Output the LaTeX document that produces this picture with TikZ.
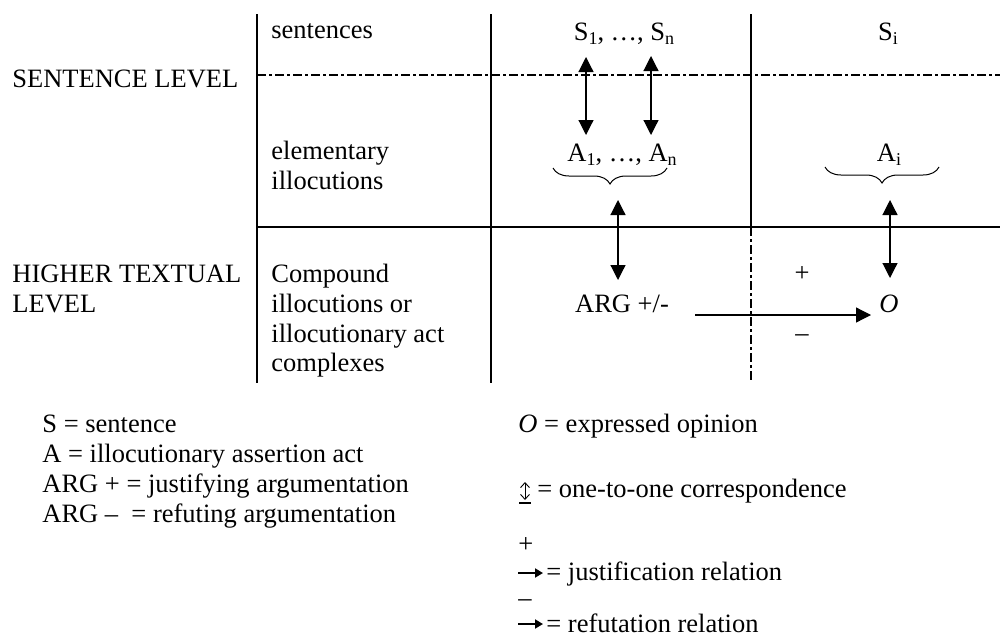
\documentclass[tikz,border=0pt]{standalone}
\usepackage{fontspec}
\setmainfont{Liberation Serif}
\usetikzlibrary{arrows.meta,decorations.pathreplacing}
\newcommand\sbs[1]{\raisebox{-0.35ex}{\fontsize{9}{9}\selectfont #1}}
\begin{document}
\begin{tikzpicture}[x=0.5pt,y=-0.5pt,
  txt/.style={inner sep=0pt, font=\fontsize{13.25}{15}\selectfont},
  lt/.style={txt, anchor=base west},
  ct/.style={txt, anchor=base},
  rule/.style={line width=0.75pt},
  dd/.style={line width=0.75pt, dash pattern=on 4.5pt off 1.5pt on 1.5pt off 1.5pt},
  dbl/.style={line width=0.6pt, {Triangle[length=7.5pt,width=7.5pt]}-{Triangle[length=7.5pt,width=7.5pt]}},
  one/.style={line width=0.6pt, -{Triangle[length=7.5pt,width=7.5pt]}},
  symarr/.style={line width=0.9pt, -{Triangle[length=4pt,width=4.5pt]}},
  symdbl/.style={line width=0.45pt, {Straight Barb[length=2.5pt,width=4.5pt]}-{Straight Barb[length=2.5pt,width=4.5pt]}},
  br/.style={decorate, decoration={brace, mirror, amplitude=8pt}, line width=0.5pt}]

\useasboundingbox (0,0) rectangle (1000,637);

% grid coordinates
\coordinate (v1t) at (257,14);  \coordinate (v1b) at (257,383);
\coordinate (v2t) at (491,14);  \coordinate (v2b) at (491,383);
\coordinate (v3t) at (751,14);  \coordinate (v3m) at (751,227); \coordinate (v3b) at (751,383);
\coordinate (hdl) at (257,75);  \coordinate (hdr) at (1000,75);
\coordinate (hsl) at (257,227); \coordinate (hsr) at (1000,227);

\draw[rule] (v1t) -- (v1b);
\draw[rule] (v2t) -- (v2b);
\draw[rule] (v3t) -- (v3m);
\draw[dd] (v3m) -- (v3b);
\draw[dd] (hdl) -- (hdr);
\draw[rule] (hsl) -- (hsr);

% row labels
\node[lt] (sl) at (12,87) {SENTENCE LEVEL};
\node[lt] (htl1) at (12,282) {HIGHER TEXTUAL};
\node[lt] (htl2) at (12,312) {LEVEL};

\node[lt] (sent) at (271,39) {sentences};
\node[lt] (el1) at (271,159) {elementary};
\node[lt] (el2) at (271,189) {illocutions};
\node[lt] (co1) at (271,282) {Compound};
\node[lt] (co2) at (271,312) {illocutions or};
\node[lt] (co3) at (271,342) {illocutionary act};
\node[lt] (co4) at (271,371) {complexes};

% content
\node[ct] (S) at (624,40) {S\sbs{1}, …, S\sbs{n}};
\node[ct] (Si) at (888,40) {S\sbs{i}};
\node[ct] (A) at (622,161) {A\sbs{1}, …, A\sbs{n}};
\node[ct] (Ai) at (889,161) {A\sbs{i}};
\node[ct] (ARG) at (622,312) {ARG +/-};
\node[ct] (O) at (889,312) {\textit{O}};
\node[txt] (plus) at (802,274) {+};
\node[txt] (minus) at (802,338) {–};

% braces
\coordinate (b1l) at (553,168); \coordinate (b1r) at (667,168);
\coordinate (b2l) at (825,167); \coordinate (b2r) at (939,167);
\draw[br] (b1l) -- (b1r);
\draw[br] (b2l) -- (b2r);

% arrows
\coordinate (a1t) at (586,57);  \coordinate (a1b) at (586,135);
\coordinate (a2t) at (651,56);  \coordinate (a2b) at (651,135);
\coordinate (a3t) at (618,200); \coordinate (a3b) at (618,280);
\coordinate (a4t) at (890,200); \coordinate (a4b) at (890,278);
\coordinate (hs) at (695,315);  \coordinate (he) at (871,315);
\draw[dbl] (a1t) -- (a1b);
\draw[dbl] (a2t) -- (a2b);
\draw[dbl] (a3t) -- (a3b);
\draw[dbl] (a4t) -- (a4b);
\draw[one] (hs) -- (he);

% legend left
\node[lt] (lg1) at (42,432) {S = sentence};
\node[lt] (lg2) at (42,462) {A = illocutionary assertion act};
\node[lt] (lg3) at (42,492) {ARG + = justifying argumentation};
\node[lt] (lg4) at (42,522) {ARG –\ \ = refuting argumentation};

% legend right
\node[lt] (lr1) at (518,432) {\textit{O} = expressed opinion};
\coordinate (ud1) at (525,482); \coordinate (ud2) at (525,500);
\coordinate (ub1) at (519,503); \coordinate (ub2) at (531,503);
\draw[symdbl] (ud1) -- (ud2);
\draw[line width=0.6pt] (ub1) -- (ub2);
\node[lt] (lr2) at (537,497) {= one-to-one correspondence};
\node[lt] (lr3p) at (518,552) {+};
\coordinate (j1) at (518,573); \coordinate (j2) at (543,573);
\draw[symarr] (j1) -- (j2);
\node[lt] (lr3) at (546,580) {= justification relation};
\node[lt] (lr4m) at (518,606) {–};
\coordinate (r1) at (518,624); \coordinate (r2) at (543,624);
\draw[symarr] (r1) -- (r2);
\node[lt] (lr4) at (546,632) {= refutation relation};
\end{tikzpicture}
\end{document}
